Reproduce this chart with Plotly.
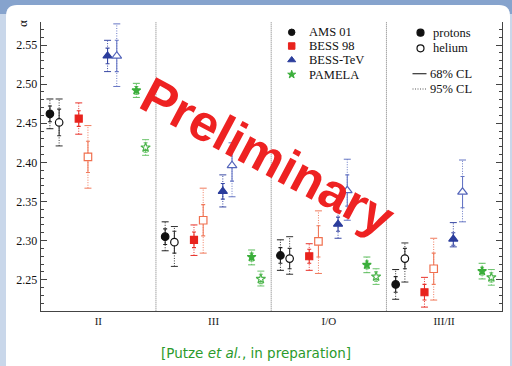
import plotly.graph_objects as go

# ---------------- data ----------------
categories = ["II", "III", "I/O", "III/II"]
experiments = ["AMS 01", "BESS 98", "BESS-TeV", "PAMELA"]

ams_p = [2.462, 2.305, 2.281, 2.244]
ams_he = [2.451, 2.298, 2.277, 2.277]
bess98_p = [2.456, 2.301, 2.280, 2.234]
bess98_he = [2.407, 2.326, 2.299, 2.264]
besstev_p = [2.536, 2.363, 2.321, 2.302]
besstev_he = [2.536, 2.396, 2.364, 2.362]
pamela_p = [2.492, 2.279, 2.269, 2.261]
pamela_he = [2.419, 2.251, 2.254, 2.253]

# 68% CL half widths
ams_p_e68 = [0.010, 0.010, 0.010, 0.010]
ams_he_e68 = [0.017, 0.014, 0.013, 0.013]
bess98_p_e68 = [0.010, 0.010, 0.009, 0.010]
bess98_he_e68 = [0.020, 0.020, 0.020, 0.020]
besstev_p_e68 = [0.010, 0.010, 0.009, 0.008]
besstev_he_e68 = [0.020, 0.020, 0.020, 0.020]
pamela_p_e68 = [0.005, 0.005, 0.005, 0.005]
pamela_he_e68 = [0.006, 0.006, 0.006, 0.006]

# 95% CL upper / lower
ams_p_e95u = [0.019, 0.019, 0.020, 0.019]
ams_p_e95d = [0.019, 0.018, 0.019, 0.019]
ams_he_e95u = [0.030, 0.020, 0.028, 0.020]
ams_he_e95d = [0.030, 0.031, 0.020, 0.030]
bess98_p_e95u = [0.020, 0.019, 0.016, 0.019]
bess98_p_e95d = [0.020, 0.020, 0.018, 0.019]
bess98_he_e95u = [0.040, 0.041, 0.039, 0.039]
bess98_he_e95d = [0.040, 0.042, 0.041, 0.040]
besstev_p_e95u = [0.020, 0.021, 0.017, 0.021]
besstev_p_e95d = [0.020, 0.020, 0.018, 0.010]
besstev_he_e95u = [0.041, 0.029, 0.040, 0.041]
besstev_he_e95d = [0.039, 0.040, 0.038, 0.038]
pamela_p_e95u = [0.009, 0.009, 0.010, 0.010]
pamela_p_e95d = [0.009, 0.010, 0.010, 0.010]
pamela_he_e95u = [0.010, 0.010, 0.010, 0.010]
pamela_he_e95d = [0.010, 0.009, 0.010, 0.010]

# ---------------- styles ----------------
W, H = 512, 366
SERIF = "Liberation Serif"

series = [
    # values, e68, e95u, e95d, offset, symbol, size, marker fill, marker line, error colour
    (ams_p, ams_p_e68, ams_p_e95u, ams_p_e95d, 0.08, "circle", 7.5, "#111111", "#111111", "#222222"),
    (ams_he, ams_he_e68, ams_he_e95u, ams_he_e95d, 0.16, "circle", 7.5, "white", "#111111", "#333333"),
    (bess98_p, bess98_p_e68, bess98_p_e95u, bess98_p_e95d, 0.33, "square", 7, "#e8231d", "#e8231d", "#e8322a"),
    (bess98_he, bess98_he_e68, bess98_he_e95u, bess98_he_e95d, 0.41, "square", 7.5, "white", "#f0704f", "#f07a5c"),
    (besstev_p, besstev_p_e68, besstev_p_e95u, besstev_p_e95d, 0.58, "triangle-up", 8, "#2b3d9c", "#2b3d9c", "#3848a4"),
    (besstev_he, besstev_he_e68, besstev_he_e95u, besstev_he_e95d, 0.66, "triangle-up", 8.5, "white", "#5566bb", "#6676c4"),
    (pamela_p, pamela_p_e68, pamela_p_e95u, pamela_p_e95d, 0.83, "star", 6.5, "#3aae3a", "#3aae3a", "#59bb59"),
    (pamela_he, pamela_he_e68, pamela_he_e95u, pamela_he_e95d, 0.91, "star", 7, "white", "#4cb44c", "#6cc46c"),
]

fig = go.Figure()

for vals, e68, e95u, e95d, off, sym, size, fill, mline, ec in series:
    xs = [i + off for i in range(len(categories))]
    lx, ly = [], []
    for x, v, u, d in zip(xs, vals, e95u, e95d):
        lx += [x, x, None]
        ly += [v - d, v + u, None]
    fig.add_trace(go.Scatter(x=lx, y=ly, mode="lines",
                             line=dict(color=ec, width=1, dash="1px,1.5px"),
                             hoverinfo="skip", showlegend=False))
    fig.add_trace(go.Scatter(x=xs + xs,
                             y=[v + u for v, u in zip(vals, e95u)] + [v - d for v, d in zip(vals, e95d)],
                             mode="markers",
                             marker=dict(symbol="line-ew", size=5, line=dict(color=ec, width=1)),
                             hoverinfo="skip", showlegend=False))
    fig.add_trace(go.Scatter(x=xs, y=vals, mode="markers",
                             marker=dict(symbol=sym, size=size, color=fill,
                                         line=dict(color=mline, width=1.2)),
                             error_y=dict(type="data", array=e68, symmetric=True,
                                          color=ec, thickness=1.1, width=2),
                             showlegend=False))

# ---------------- layout ----------------
x0, x1 = 40.7 / W, 501.7 / W
y0, y1 = 1 - 310.7 / H, 1 - 22 / H

shapes = [
    dict(type="rect", xref="paper", yref="paper", x0=0, x1=1, y0=1 - 14 / H, y1=1,
         fillcolor="#86a3cd", line=dict(width=0), layer="below"),
]
r_x, r_y = 11 / W, 11 / H
px0, px1, py0, py1 = 6 / W, 510 / W, -0.02, 1 - 5 / H
panel_path = (f"M {px0},{py0} L {px0},{py1 - r_y} Q {px0},{py1} {px0 + r_x},{py1} "
              f"L {px1 - r_x},{py1} Q {px1},{py1} {px1},{py1 - r_y} L {px1},{py0} Z")
shapes.append(dict(type="path", xref="paper", yref="paper", path=panel_path,
                   fillcolor="white", line=dict(width=0), layer="below"))
for b in range(1, len(categories)):
    shapes.append(dict(type="line", xref="x", yref="y domain", x0=b, x1=b, y0=0, y1=1,
                       line=dict(color="#7a7a7a", width=1, dash="1px,1px")))

leg1_y = [32.3, 46.0, 60.0, 74.5]
leg1_sym = [("circle", 6.5, "#111111"), ("square", 6.5, "#e8231d"),
            ("triangle-up", 7, "#2b3d9c"), ("star", 6, "#3aae3a")]
annotations = []
for name, yy, (sym, sz, col) in zip(experiments, leg1_y, leg1_sym):
    fig.add_trace(go.Scatter(x=[291.7], y=[yy], xaxis="x2", yaxis="y2", mode="markers",
                             marker=dict(symbol=sym, size=sz, color=col, line=dict(color=col, width=1)),
                             hoverinfo="skip", showlegend=False))
    annotations.append(dict(text=name, x=306.5 / W, y=1 - yy / H, xref="paper", yref="paper",
                            xanchor="left", yanchor="middle", showarrow=False,
                            font=dict(family=SERIF, size=12.5, color="#111")))

fig.add_trace(go.Scatter(x=[420.5, 420.5], y=[32.7, 48.3], xaxis="x2", yaxis="y2", mode="markers",
                         marker=dict(symbol="circle", size=7, color=["#111111", "white"],
                                     line=dict(color="#111111", width=1.2)),
                         hoverinfo="skip", showlegend=False))
for txt, xx, yy in [("protons", 430.5, 32.7), ("helium", 430.5, 48.3),
                    ("68% CL", 427.5, 73.7), ("95% CL", 427.5, 89.0)]:
    annotations.append(dict(text=txt, x=xx / W, y=1 - yy / H, xref="paper", yref="paper",
                            xanchor="left", yanchor="middle", showarrow=False,
                            font=dict(family=SERIF, size=12.5, color="#111")))
shapes.append(dict(type="line", xref="paper", yref="paper", x0=412.5 / W, x1=426.5 / W,
                   y0=1 - 73.7 / H, y1=1 - 73.7 / H, line=dict(color="#333", width=1.2)))
shapes.append(dict(type="line", xref="paper", yref="paper", x0=412.5 / W, x1=426.5 / W,
                   y0=1 - 89.0 / H, y1=1 - 89.0 / H, line=dict(color="#555", width=1, dash="1px,1.5px")))

annotations.append(dict(text="α", x=23 / W, y=1 - 24 / H, xref="paper", yref="paper",
                        textangle=-90, showarrow=False, xanchor="center", yanchor="middle",
                        font=dict(family=SERIF, size=13, color="#111")))
annotations.append(dict(text="<b>Preliminary</b>", x=268 / W, y=1 - 156 / H, xref="paper", yref="paper",
                        textangle=28, showarrow=False, xanchor="center", yanchor="middle",
                        font=dict(family="Liberation Sans", size=51, color="#ee2222")))
annotations.append(dict(text="[Putze <i>et al.</i>, in preparation]", x=255.5 / W, y=1 - 352.5 / H,
                        xref="paper", yref="paper", showarrow=False, xanchor="center", yanchor="middle",
                        font=dict(family="DejaVu Sans", size=13.5, color="#2b9a2b")))

fig.update_layout(
    width=W, height=H,
    margin=dict(l=0, r=0, t=0, b=0),
    paper_bgcolor="#c9d7ea",
    plot_bgcolor="rgba(0,0,0,0)",
    showlegend=False,
    shapes=shapes,
    annotations=annotations,
    xaxis=dict(domain=[x0, x1], range=[0, len(categories)], tickmode="array",
               tickvals=[i + 0.5 for i in range(len(categories))], ticktext=categories,
               ticks="", showline=True, linecolor="#444", linewidth=1, mirror=False,
               showgrid=False, zeroline=False,
               tickfont=dict(family=SERIF, size=11, color="#222")),
    yaxis=dict(domain=[y0, y1], range=[2.2104, 2.5794], tickmode="linear", tick0=2.25, dtick=0.05,
               tickformat=".2f", ticks="inside", ticklen=6, tickcolor="#444", tickwidth=1,
               minor=dict(dtick=0.01, ticks="inside", ticklen=3, tickcolor="#444", tickwidth=1),
               showline=True, linecolor="#444", linewidth=1, mirror="ticks",
               showgrid=False, zeroline=False,
               tickfont=dict(family=SERIF, size=12, color="#111")),
    xaxis2=dict(domain=[0, 1], range=[0, W], visible=False, anchor="y2"),
    yaxis2=dict(domain=[0, 1], range=[H, 0], visible=False, anchor="x2"),
)

fig.write_html("out.html")
